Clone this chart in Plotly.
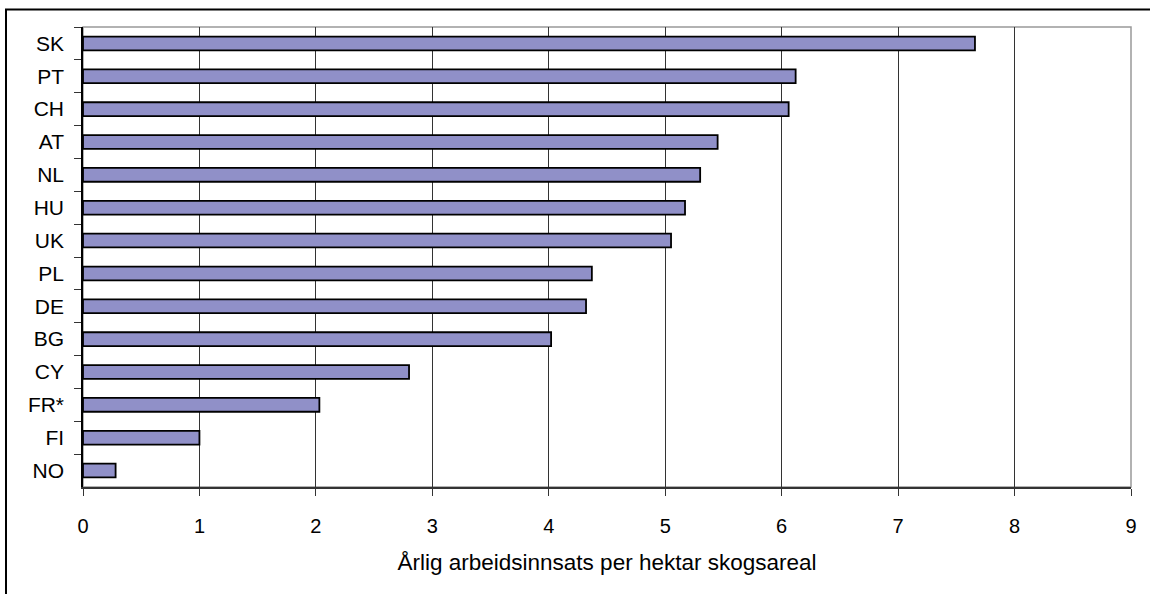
import plotly.graph_objects as go

countries = ["SK", "PT", "CH", "AT", "NL", "HU", "UK", "PL", "DE", "BG", "CY", "FR*", "FI", "NO"]
values = [7.66, 6.12, 6.06, 5.45, 5.30, 5.17, 5.05, 4.37, 4.32, 4.02, 2.80, 2.03, 1.00, 0.28]
x_ticks = [0, 1, 2, 3, 4, 5, 6, 7, 8, 9]
x_title = "Årlig arbeidsinnsats per hektar skogsareal"

W, H = 1150, 594
ML, MR, MT, MB = 83, 19, 27, 107
PW, PH = W - ML - MR, H - MT - MB

FONT = "Liberation Sans, Arial, sans-serif"

fig = go.Figure()
fig.add_trace(go.Bar(
    y=countries,
    x=values,
    orientation="h",
    width=0.42,
    marker=dict(color="#9090C8", line=dict(color="#000000", width=1.8)),
    hoverinfo="x+y",
))

# outer chart frame (only top and left edges visible)
fx = (6 - ML) / PW
fy = 1 + (MT - 9.5) / PH
fig.add_shape(type="path", xref="paper", yref="paper",
              path=f"M {fx},-1 L {fx},{fy} L 2,{fy}",
              line=dict(color="#000000", width=2), layer="above")
# plot area border (grey)
fig.add_shape(type="rect", xref="paper", yref="paper", x0=0, x1=1, y0=0, y1=1,
              line=dict(color="#999999", width=1.5), layer="below")

fig.update_layout(
    width=W, height=H,
    margin=dict(l=ML, r=MR, t=MT, b=MB, pad=0),
    paper_bgcolor="#FFFFFF",
    plot_bgcolor="#FFFFFF",
    showlegend=False,
    font=dict(family=FONT, size=21, color="#000000"),
    xaxis=dict(
        range=[0, 9],
        tickvals=x_ticks,
        ticktext=[str(v) for v in x_ticks],
        showgrid=True, gridcolor="#333333", gridwidth=1,
        zeroline=False,
        showline=True, linecolor="#333333", linewidth=1.5,
        ticks="outside", ticklen=7, tickcolor="#333333", tickwidth=1,
        ticklabelstandoff=13,
        tickfont=dict(family=FONT, size=20),
        title=dict(text=x_title, font=dict(family=FONT, size=22.5), standoff=18),
    ),
    yaxis=dict(
        type="category",
        categoryorder="array",
        categoryarray=countries,
        autorange="reversed",
        showgrid=False,
        zeroline=False,
        showline=True, linecolor="#000000", linewidth=1.5,
        ticks="outside", ticklen=7, tickcolor="#333333", tickwidth=1,
        tickson="boundaries",
        ticklabelstandoff=13,
        tickfont=dict(family=FONT, size=21),
    ),
)

fig.write_html("out.html")
